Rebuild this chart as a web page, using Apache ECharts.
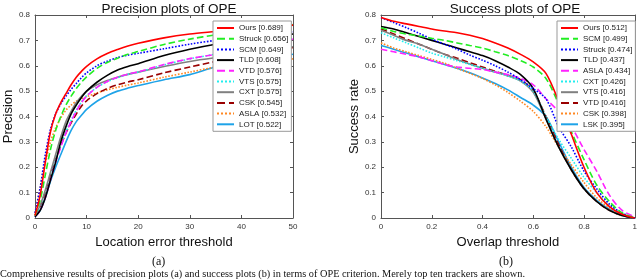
<!DOCTYPE html>
<html><head><meta charset="utf-8">
<script src="https://cdn.jsdelivr.net/npm/echarts@6/dist/echarts.min.js"></script>
<style>html,body{margin:0;padding:0;background:#fff}#c{width:640px;height:280px}</style>
</head><body><div id="c"></div>
<script>
// ---- Precision plot data (x = location error threshold) ----
var precX = [0,1,2,3,4,5,6,7,8,9,10,12,14,16,18,20,25,30,35,40,45,50];
var precOurs   = [0.01,0.09,0.22,0.34,0.41,0.455,0.49,0.525,0.555,0.578,0.598,0.627,0.648,0.664,0.678,0.689,0.71,0.725,0.735,0.745,0.753,0.76];
var precStruck = [0.01,0.07,0.17,0.27,0.345,0.4,0.445,0.48,0.51,0.535,0.556,0.59,0.613,0.63,0.645,0.656,0.684,0.705,0.722,0.737,0.75,0.762];
var precSCM    = [0.02,0.12,0.25,0.35,0.41,0.45,0.48,0.507,0.53,0.553,0.572,0.6,0.618,0.632,0.642,0.649,0.667,0.685,0.7,0.712,0.722,0.733];
var precTLD    = [0.005,0.03,0.08,0.15,0.22,0.3,0.36,0.41,0.445,0.475,0.5,0.535,0.562,0.583,0.597,0.608,0.64,0.665,0.685,0.7,0.713,0.725];
var precVTD    = [0.005,0.03,0.08,0.15,0.22,0.28,0.335,0.38,0.42,0.455,0.48,0.515,0.538,0.555,0.567,0.576,0.605,0.628,0.645,0.665,0.685,0.705];
var precVTS    = [0.005,0.035,0.085,0.155,0.225,0.29,0.34,0.385,0.425,0.457,0.482,0.515,0.537,0.553,0.566,0.575,0.603,0.627,0.646,0.668,0.69,0.71];
var precCXT    = [0.01,0.05,0.11,0.18,0.25,0.32,0.38,0.42,0.455,0.48,0.5,0.525,0.542,0.555,0.566,0.575,0.597,0.617,0.632,0.645,0.66,0.675];
var precCSK    = [0.01,0.04,0.1,0.17,0.23,0.285,0.335,0.375,0.41,0.44,0.462,0.49,0.51,0.525,0.536,0.545,0.572,0.595,0.617,0.637,0.655,0.672];
var precASLA   = [0.02,0.12,0.22,0.3,0.355,0.395,0.425,0.445,0.46,0.47,0.478,0.493,0.505,0.515,0.524,0.532,0.555,0.575,0.595,0.608,0.618,0.627];
var precLOT    = [0.005,0.03,0.08,0.145,0.2,0.25,0.3,0.345,0.38,0.405,0.428,0.46,0.483,0.5,0.512,0.522,0.545,0.565,0.595,0.612,0.63,0.645];
var precNames  = ["Ours [0.689]","Struck [0.656]","SCM [0.649]","TLD [0.608]","VTD [0.576]","VTS [0.575]","CXT [0.575]","CSK [0.545]","ASLA [0.532]","LOT [0.522]"];

// ---- Success plot data (x = overlap threshold) ----
var succX = [0,0.05,0.1,0.15,0.2,0.25,0.3,0.35,0.4,0.45,0.5,0.55,0.6,0.65,0.7,0.75,0.8,0.85,0.9,0.95,1];
var succOurs   = [0.79,0.775,0.765,0.755,0.745,0.737,0.73,0.72,0.707,0.69,0.67,0.645,0.615,0.57,0.46,0.33,0.2,0.1,0.045,0.015,0];
var succSCM    = [0.75,0.735,0.725,0.717,0.708,0.7,0.69,0.68,0.67,0.655,0.64,0.62,0.595,0.55,0.45,0.34,0.23,0.13,0.065,0.02,0];
var succStruck = [0.79,0.77,0.75,0.728,0.705,0.685,0.665,0.642,0.622,0.6,0.575,0.545,0.51,0.47,0.36,0.28,0.185,0.115,0.055,0.018,0];
var succTLD    = [0.755,0.745,0.73,0.715,0.7,0.685,0.67,0.655,0.64,0.62,0.595,0.565,0.51,0.39,0.28,0.19,0.115,0.065,0.03,0.01,0];
var succASLA   = [0.665,0.655,0.645,0.635,0.62,0.605,0.595,0.59,0.585,0.575,0.565,0.55,0.525,0.47,0.42,0.36,0.27,0.185,0.09,0.03,0.005];
var succCXT    = [0.73,0.71,0.69,0.67,0.65,0.635,0.62,0.605,0.59,0.575,0.56,0.54,0.5,0.4,0.31,0.235,0.16,0.1,0.05,0.02,0];
var succVTS    = [0.74,0.72,0.7,0.685,0.665,0.645,0.625,0.607,0.59,0.575,0.56,0.54,0.495,0.39,0.28,0.19,0.115,0.065,0.03,0.01,0];
var succVTD    = [0.745,0.725,0.705,0.685,0.665,0.645,0.63,0.612,0.595,0.578,0.562,0.545,0.5,0.4,0.29,0.19,0.115,0.065,0.03,0.01,0];
var succCSK    = [0.69,0.67,0.655,0.64,0.625,0.61,0.59,0.57,0.55,0.525,0.495,0.46,0.42,0.36,0.28,0.21,0.14,0.08,0.04,0.014,0];
var succLSK    = [0.68,0.665,0.65,0.635,0.62,0.605,0.59,0.572,0.552,0.53,0.505,0.475,0.445,0.4,0.3,0.2,0.12,0.07,0.035,0.012,0];
var succNames  = ["Ours [0.512]","SCM [0.499]","Struck [0.474]","TLD [0.437]","ASLA [0.434]","CXT [0.426]","VTS [0.416]","VTD [0.416]","CSK [0.398]","LSK [0.395]"];

var caption = "Comprehensive results of precision plots (a) and success plots (b) in terms of OPE criterion. Merely top ten trackers are shown.";

var precStyles = [
  ["#ff0000","solid"],["#22ee22","dashed"],["#0000ff","dotted"],["#000000","solid"],["#ff22ff","dashed"],
  ["#22eeee","dotted"],["#808080","solid"],["#990000","dashed"],["#ff8822","dotted"],["#1ea3e8","solid"]];
var succStyles = [
  ["#ff0000","solid"],["#22ee22","dashed"],["#0000ff","dotted"],["#000000","solid"],["#ff22ff","dashed"],
  ["#22eeee","dotted"],["#808080","solid"],["#990000","dashed"],["#ff8822","dotted"],["#1ea3e8","solid"]];

var precData = [precOurs,precStruck,precSCM,precTLD,precVTD,precVTS,precCXT,precCSK,precASLA,precLOT];
var succData = [succOurs,succSCM,succStruck,succTLD,succASLA,succCXT,succVTS,succVTD,succCSK,succLSK];

function pairs(xs, ys){ return xs.map(function(x,i){ return [x, ys[i]]; }); }

var FONT = "Liberation Sans, Arial, sans-serif";
var axisCol = "#555";

function mkX(grid, min, max, interval, name, pos, show) {
  return {
    type:'value', gridIndex:grid, min:min, max:max, interval:interval, position:pos,
    name: show ? name : '', nameLocation:'middle', nameGap:17,
    nameTextStyle:{fontFamily:FONT, fontSize:13, color:'#111'},
    axisLine:{show:true, onZero:false, lineStyle:{color:axisCol, width:1}},
    axisTick:{show:true, inside:true, length:3, lineStyle:{color:axisCol}},
    axisLabel:{show:show, fontFamily:FONT, fontSize:8, color:'#333', margin:5},
    splitLine:{show:false}
  };
}
function mkY(grid, name, pos, show) {
  return {
    type:'value', gridIndex:grid, min:0, max:0.8, interval:0.1, position:pos,
    name: show ? name : '', nameLocation:'middle', nameGap:18,
    nameTextStyle:{fontFamily:FONT, fontSize:13, color:'#111'},
    axisLine:{show:true, onZero:false, lineStyle:{color:axisCol, width:1}},
    axisTick:{show:true, inside:true, length:3, lineStyle:{color:axisCol}},
    axisLabel:{show:show, fontFamily:FONT, fontSize:8, color:'#333', margin:5,
      formatter:function(v){ return String(Math.round(v*10)/10); }},
    splitLine:{show:false}
  };
}

var series = [];
precData.forEach(function(d,i){
  series.push({type:'line', name:precNames[i], xAxisIndex:0, yAxisIndex:0, data:pairs(precX,d),
    smooth:0.3, symbol:'none', showSymbol:false, z: 10-i,
    lineStyle:{color:precStyles[i][0], type:precStyles[i][1], width:1.6},
    itemStyle:{color:precStyles[i][0]}});
});
succData.forEach(function(d,i){
  series.push({type:'line', name:succNames[i], xAxisIndex:2, yAxisIndex:2, data:pairs(succX,d),
    smooth:0.3, symbol:'none', showSymbol:false, z: 10-i,
    lineStyle:{color:succStyles[i][0], type:succStyles[i][1], width:1.6},
    itemStyle:{color:succStyles[i][0]}});
});

var legendBase = {
  orient:'vertical', top:21, padding:[2,3,2,3], itemGap:0.7, itemWidth:17, itemHeight:8,
  backgroundColor:'#fff', borderColor:'#999', borderWidth:1, borderRadius:0,
  itemStyle:{opacity:0, borderWidth:0},
  textStyle:{fontFamily:FONT, fontSize:8, color:'#222', lineHeight:10},
  selectedMode:false, z:20
};

var chart = echarts.init(document.getElementById('c'), null, {renderer:'canvas'});
chart.setOption({
  animation:false,
  backgroundColor:'#fff',
  title:[
    {text:'Precision plots of OPE', left:164, top:-3, textAlign:'center',
      textStyle:{fontFamily:FONT, fontSize:13.5, fontWeight:'normal', color:'#111'}},
    {text:'Success plots of OPE', left:510, top:-3, textAlign:'center',
      textStyle:{fontFamily:FONT, fontSize:13.5, fontWeight:'normal', color:'#111'}}
  ],
  grid:[
    {left:35, top:15, width:258, height:203},
    {left:381, top:15, width:257, height:203}
  ],
  xAxis:[
    mkX(0,0,50,10,'Location error threshold','bottom',true),
    mkX(0,0,50,10,'','top',false),
    mkX(1,0,1,0.2,'Overlap threshold','bottom',true),
    mkX(1,0,1,0.2,'','top',false)
  ],
  yAxis:[
    mkY(0,'Precision','left',true),
    mkY(0,'','right',false),
    mkY(1,'Success rate','left',true),
    mkY(1,'','right',false)
  ],
  legend:[
    Object.assign({}, legendBase, {left:213, data:precNames}),
    Object.assign({}, legendBase, {left:557, data:succNames})
  ],
  graphic:[
    {type:'text', left:152, top:256, style:{text:'(a)', font:'12px "Liberation Serif", serif', fill:'#111'}},
    {type:'text', left:499, top:256, style:{text:'(b)', font:'12px "Liberation Serif", serif', fill:'#111'}},
    {type:'text', left:0, top:269, style:{text:caption, font:'10.3px "Liberation Serif", serif', fill:'#111'}}
  ],
  series:series
});
</script>
</body></html>
